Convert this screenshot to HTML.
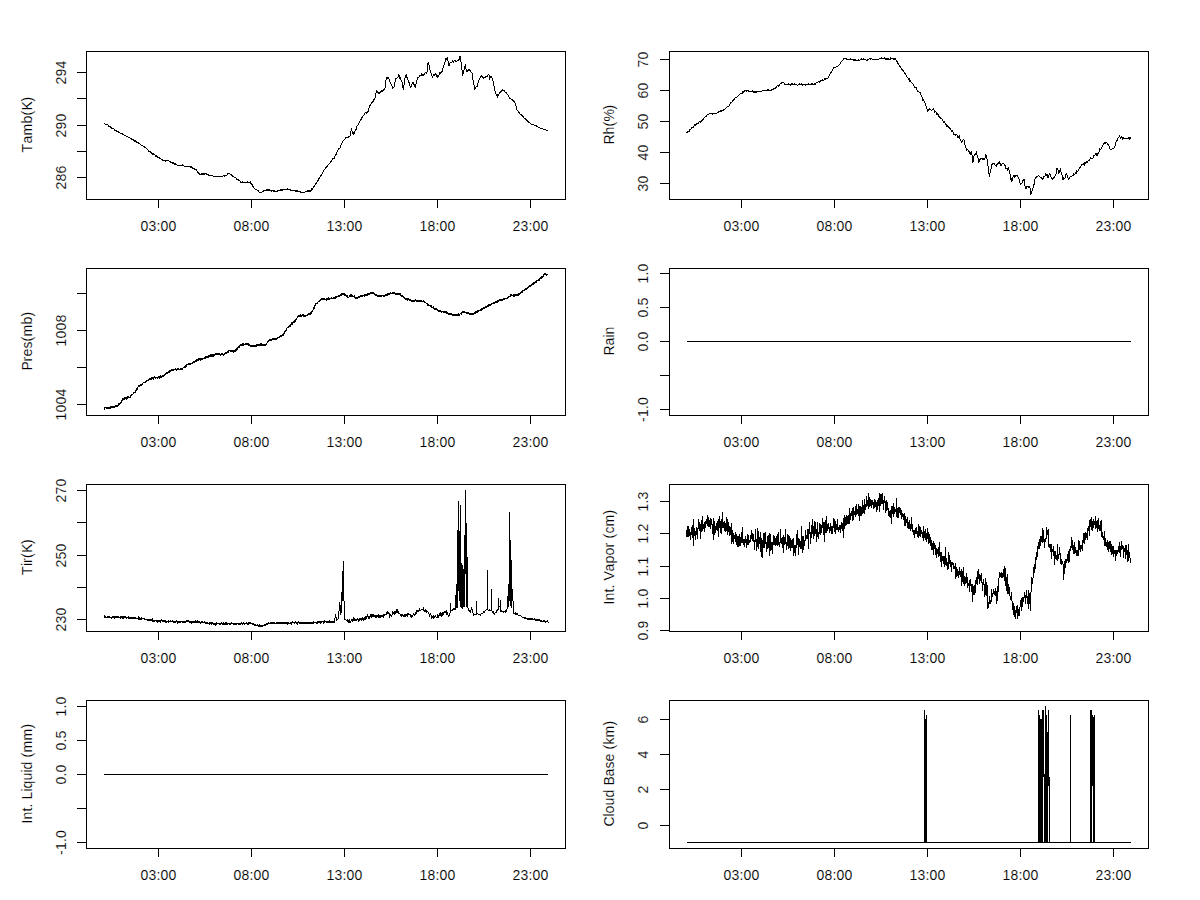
<!DOCTYPE html>
<html><head><meta charset="utf-8"><title>plot</title>
<style>
html,body{margin:0;padding:0;background:#fff;}
body{width:1200px;height:900px;overflow:hidden;font-family:"Liberation Sans",sans-serif;}
svg{display:block;}
</style></head><body>
<svg width="1200" height="900" viewBox="0 0 1200 900">
<rect width="1200" height="900" fill="#fff"/>
<g fill="#000" shape-rendering="crispEdges">
<rect x="86" y="51" width="480" height="1"/>
<rect x="86" y="199" width="480" height="1"/>
<rect x="86" y="51" width="1" height="149"/>
<rect x="565" y="51" width="1" height="149"/>
<rect x="158" y="199" width="1" height="9"/>
<rect x="251" y="199" width="1" height="9"/>
<rect x="344" y="199" width="1" height="9"/>
<rect x="437" y="199" width="1" height="9"/>
<rect x="530" y="199" width="1" height="9"/>
<rect x="77" y="72" width="10" height="1"/>
<rect x="77" y="98" width="10" height="1"/>
<rect x="77" y="125" width="10" height="1"/>
<rect x="77" y="151" width="10" height="1"/>
<rect x="77" y="177" width="10" height="1"/>
<rect x="669" y="51" width="480" height="1"/>
<rect x="669" y="199" width="480" height="1"/>
<rect x="669" y="51" width="1" height="149"/>
<rect x="1148" y="51" width="1" height="149"/>
<rect x="741" y="199" width="1" height="9"/>
<rect x="834" y="199" width="1" height="9"/>
<rect x="927" y="199" width="1" height="9"/>
<rect x="1020" y="199" width="1" height="9"/>
<rect x="1113" y="199" width="1" height="9"/>
<rect x="660" y="59" width="10" height="1"/>
<rect x="660" y="90" width="10" height="1"/>
<rect x="660" y="121" width="10" height="1"/>
<rect x="660" y="152" width="10" height="1"/>
<rect x="660" y="183" width="10" height="1"/>
<rect x="86" y="268" width="480" height="1"/>
<rect x="86" y="415" width="480" height="1"/>
<rect x="86" y="268" width="1" height="148"/>
<rect x="565" y="268" width="1" height="148"/>
<rect x="158" y="415" width="1" height="9"/>
<rect x="251" y="415" width="1" height="9"/>
<rect x="344" y="415" width="1" height="9"/>
<rect x="437" y="415" width="1" height="9"/>
<rect x="530" y="415" width="1" height="9"/>
<rect x="77" y="293" width="10" height="1"/>
<rect x="77" y="330" width="10" height="1"/>
<rect x="77" y="367" width="10" height="1"/>
<rect x="77" y="404" width="10" height="1"/>
<rect x="669" y="268" width="480" height="1"/>
<rect x="669" y="415" width="480" height="1"/>
<rect x="669" y="268" width="1" height="148"/>
<rect x="1148" y="268" width="1" height="148"/>
<rect x="741" y="415" width="1" height="9"/>
<rect x="834" y="415" width="1" height="9"/>
<rect x="927" y="415" width="1" height="9"/>
<rect x="1020" y="415" width="1" height="9"/>
<rect x="1113" y="415" width="1" height="9"/>
<rect x="660" y="273" width="10" height="1"/>
<rect x="660" y="307" width="10" height="1"/>
<rect x="660" y="341" width="10" height="1"/>
<rect x="660" y="375" width="10" height="1"/>
<rect x="660" y="409" width="10" height="1"/>
<rect x="86" y="484" width="480" height="1"/>
<rect x="86" y="631" width="480" height="1"/>
<rect x="86" y="484" width="1" height="148"/>
<rect x="565" y="484" width="1" height="148"/>
<rect x="158" y="631" width="1" height="9"/>
<rect x="251" y="631" width="1" height="9"/>
<rect x="344" y="631" width="1" height="9"/>
<rect x="437" y="631" width="1" height="9"/>
<rect x="530" y="631" width="1" height="9"/>
<rect x="77" y="490" width="10" height="1"/>
<rect x="77" y="522" width="10" height="1"/>
<rect x="77" y="555" width="10" height="1"/>
<rect x="77" y="587" width="10" height="1"/>
<rect x="77" y="619" width="10" height="1"/>
<rect x="669" y="484" width="480" height="1"/>
<rect x="669" y="631" width="480" height="1"/>
<rect x="669" y="484" width="1" height="148"/>
<rect x="1148" y="484" width="1" height="148"/>
<rect x="741" y="631" width="1" height="9"/>
<rect x="834" y="631" width="1" height="9"/>
<rect x="927" y="631" width="1" height="9"/>
<rect x="1020" y="631" width="1" height="9"/>
<rect x="1113" y="631" width="1" height="9"/>
<rect x="660" y="501" width="10" height="1"/>
<rect x="660" y="533" width="10" height="1"/>
<rect x="660" y="566" width="10" height="1"/>
<rect x="660" y="598" width="10" height="1"/>
<rect x="660" y="630" width="10" height="1"/>
<rect x="86" y="700" width="480" height="1"/>
<rect x="86" y="848" width="480" height="1"/>
<rect x="86" y="700" width="1" height="149"/>
<rect x="565" y="700" width="1" height="149"/>
<rect x="158" y="848" width="1" height="9"/>
<rect x="251" y="848" width="1" height="9"/>
<rect x="344" y="848" width="1" height="9"/>
<rect x="437" y="848" width="1" height="9"/>
<rect x="530" y="848" width="1" height="9"/>
<rect x="77" y="706" width="10" height="1"/>
<rect x="77" y="740" width="10" height="1"/>
<rect x="77" y="774" width="10" height="1"/>
<rect x="77" y="808" width="10" height="1"/>
<rect x="77" y="842" width="10" height="1"/>
<rect x="669" y="700" width="480" height="1"/>
<rect x="669" y="848" width="480" height="1"/>
<rect x="669" y="700" width="1" height="149"/>
<rect x="1148" y="700" width="1" height="149"/>
<rect x="741" y="848" width="1" height="9"/>
<rect x="834" y="848" width="1" height="9"/>
<rect x="927" y="848" width="1" height="9"/>
<rect x="1020" y="848" width="1" height="9"/>
<rect x="1113" y="848" width="1" height="9"/>
<rect x="660" y="719" width="10" height="1"/>
<rect x="660" y="754" width="10" height="1"/>
<rect x="660" y="789" width="10" height="1"/>
<rect x="660" y="825" width="10" height="1"/>
</g>
<g font-family="Liberation Sans, sans-serif" font-size="14" fill="#000" stroke="#fff" stroke-width="0.12" paint-order="fill stroke" text-anchor="start">
<text transform="translate(158.5,231)" x="-18 -10 -2 2 10">03:00</text>
<text transform="translate(251.5,231)" x="-18 -10 -2 2 10">08:00</text>
<text transform="translate(344.5,231)" x="-18 -10 -2 2 10">13:00</text>
<text transform="translate(437.5,231)" x="-18 -10 -2 2 10">18:00</text>
<text transform="translate(530.5,231)" x="-18 -10 -2 2 10">23:00</text>
<text transform="translate(65.5,72.5) rotate(-90)" x="-12 -4 4">294</text>
<text transform="translate(65.5,125.5) rotate(-90)" x="-12 -4 4">290</text>
<text transform="translate(65.5,177.5) rotate(-90)" x="-12 -4 4">286</text>
<text transform="translate(31.5,124.5) rotate(-90)" x="-28 -19 -11 1 9 14 23">Tamb(K)</text>
<text transform="translate(741.5,231)" x="-18 -10 -2 2 10">03:00</text>
<text transform="translate(834.5,231)" x="-18 -10 -2 2 10">08:00</text>
<text transform="translate(927.5,231)" x="-18 -10 -2 2 10">13:00</text>
<text transform="translate(1020.5,231)" x="-18 -10 -2 2 10">18:00</text>
<text transform="translate(1113.5,231)" x="-18 -10 -2 2 10">23:00</text>
<text transform="translate(648.2,59.5) rotate(-90)" x="-8 0">70</text>
<text transform="translate(648.2,90.5) rotate(-90)" x="-8 0">60</text>
<text transform="translate(648.2,121.5) rotate(-90)" x="-8 0">50</text>
<text transform="translate(648.2,152.5) rotate(-90)" x="-8 0">40</text>
<text transform="translate(648.2,183.5) rotate(-90)" x="-8 0">30</text>
<text transform="translate(613.8,124.5) rotate(-90)" x="-20 -10 -2 3 15">Rh(%)</text>
<text transform="translate(158.5,447)" x="-18 -10 -2 2 10">03:00</text>
<text transform="translate(251.5,447)" x="-18 -10 -2 2 10">08:00</text>
<text transform="translate(344.5,447)" x="-18 -10 -2 2 10">13:00</text>
<text transform="translate(437.5,447)" x="-18 -10 -2 2 10">18:00</text>
<text transform="translate(530.5,447)" x="-18 -10 -2 2 10">23:00</text>
<text transform="translate(65.5,330.5) rotate(-90)" x="-16 -8 0 8">1008</text>
<text transform="translate(65.5,404.5) rotate(-90)" x="-16 -8 0 8">1004</text>
<text transform="translate(31.5,341.0) rotate(-90)" x="-29.5 -20.5 -15.5 -7.5 -0.5 4.5 16.5 24.5">Pres(mb)</text>
<text transform="translate(741.5,447)" x="-18 -10 -2 2 10">03:00</text>
<text transform="translate(834.5,447)" x="-18 -10 -2 2 10">08:00</text>
<text transform="translate(927.5,447)" x="-18 -10 -2 2 10">13:00</text>
<text transform="translate(1020.5,447)" x="-18 -10 -2 2 10">18:00</text>
<text transform="translate(1113.5,447)" x="-18 -10 -2 2 10">23:00</text>
<text transform="translate(648.2,273.5) rotate(-90)" x="-10 -2 2">1.0</text>
<text transform="translate(648.2,307.5) rotate(-90)" x="-10 -2 2">0.5</text>
<text transform="translate(648.2,341.5) rotate(-90)" x="-10 -2 2">0.0</text>
<text transform="translate(648.2,409.5) rotate(-90)" x="-12.5 -7.5 0.5 4.5">-1.0</text>
<text transform="translate(613.8,341.0) rotate(-90)" x="-14.5 -4.5 3.5 6.5">Rain</text>
<text transform="translate(158.5,663)" x="-18 -10 -2 2 10">03:00</text>
<text transform="translate(251.5,663)" x="-18 -10 -2 2 10">08:00</text>
<text transform="translate(344.5,663)" x="-18 -10 -2 2 10">13:00</text>
<text transform="translate(437.5,663)" x="-18 -10 -2 2 10">18:00</text>
<text transform="translate(530.5,663)" x="-18 -10 -2 2 10">23:00</text>
<text transform="translate(65.5,490.5) rotate(-90)" x="-12 -4 4">270</text>
<text transform="translate(65.5,555.5) rotate(-90)" x="-12 -4 4">250</text>
<text transform="translate(65.5,619.5) rotate(-90)" x="-12 -4 4">230</text>
<text transform="translate(31.5,557.0) rotate(-90)" x="-18 -9 -6 -1 4 13">Tir(K)</text>
<text transform="translate(741.5,663)" x="-18 -10 -2 2 10">03:00</text>
<text transform="translate(834.5,663)" x="-18 -10 -2 2 10">08:00</text>
<text transform="translate(927.5,663)" x="-18 -10 -2 2 10">13:00</text>
<text transform="translate(1020.5,663)" x="-18 -10 -2 2 10">18:00</text>
<text transform="translate(1113.5,663)" x="-18 -10 -2 2 10">23:00</text>
<text transform="translate(648.2,501.5) rotate(-90)" x="-10 -2 2">1.3</text>
<text transform="translate(648.2,533.5) rotate(-90)" x="-10 -2 2">1.2</text>
<text transform="translate(648.2,566.5) rotate(-90)" x="-10 -2 2">1.1</text>
<text transform="translate(648.2,598.5) rotate(-90)" x="-10 -2 2">1.0</text>
<text transform="translate(648.2,630.5) rotate(-90)" x="-10 -2 2">0.9</text>
<text transform="translate(613.8,557.0) rotate(-90)" x="-47.5 -43.5 -35.5 -31.5 -27.5 -23.5 -14.5 -6.5 1.5 9.5 14.5 18.5 23.5 30.5 42.5">Int. Vapor (cm)</text>
<text transform="translate(158.5,880)" x="-18 -10 -2 2 10">03:00</text>
<text transform="translate(251.5,880)" x="-18 -10 -2 2 10">08:00</text>
<text transform="translate(344.5,880)" x="-18 -10 -2 2 10">13:00</text>
<text transform="translate(437.5,880)" x="-18 -10 -2 2 10">18:00</text>
<text transform="translate(530.5,880)" x="-18 -10 -2 2 10">23:00</text>
<text transform="translate(65.5,706.5) rotate(-90)" x="-10 -2 2">1.0</text>
<text transform="translate(65.5,740.5) rotate(-90)" x="-10 -2 2">0.5</text>
<text transform="translate(65.5,774.5) rotate(-90)" x="-10 -2 2">0.0</text>
<text transform="translate(65.5,842.5) rotate(-90)" x="-12.5 -7.5 0.5 4.5">-1.0</text>
<text transform="translate(31.5,773.5) rotate(-90)" x="-50 -46 -38 -34 -30 -26 -18 -15 -7 1 4 12 16 21 33 45">Int. Liquid (mm)</text>
<text transform="translate(741.5,880)" x="-18 -10 -2 2 10">03:00</text>
<text transform="translate(834.5,880)" x="-18 -10 -2 2 10">08:00</text>
<text transform="translate(927.5,880)" x="-18 -10 -2 2 10">13:00</text>
<text transform="translate(1020.5,880)" x="-18 -10 -2 2 10">18:00</text>
<text transform="translate(1113.5,880)" x="-18 -10 -2 2 10">23:00</text>
<text transform="translate(648.2,719.5) rotate(-90)" x="-4">6</text>
<text transform="translate(648.2,754.5) rotate(-90)" x="-4">4</text>
<text transform="translate(648.2,789.5) rotate(-90)" x="-4">2</text>
<text transform="translate(648.2,825.5) rotate(-90)" x="-4">0</text>
<text transform="translate(613.8,773.5) rotate(-90)" x="-53 -43 -40 -32 -24 -16 -12 -3 5 12 20 24 29 36 48">Cloud Base (km)</text>
</g>
<path fill="#000" shape-rendering="crispEdges" d="M104 123h1v1h-1zM105 124h1v1h-1zM106 124h1v1h-1zM107 124h1v1h-1zM108 125h1v2h-1zM109 126h1v1h-1zM110 126h1v2h-1zM111 127h1v2h-1zM112 128h1v1h-1zM113 128h1v1h-1zM114 129h1v2h-1zM115 130h1v1h-1zM116 130h1v2h-1zM117 131h1v1h-1zM118 131h1v2h-1zM119 132h1v1h-1zM120 133h1v1h-1zM121 133h1v1h-1zM122 133h1v2h-1zM123 134h1v1h-1zM124 135h1v1h-1zM125 135h1v1h-1zM126 136h1v1h-1zM127 136h1v1h-1zM128 137h1v1h-1zM129 137h1v1h-1zM130 138h1v1h-1zM131 138h1v2h-1zM132 139h1v1h-1zM133 139h1v2h-1zM134 140h1v2h-1zM135 140h1v2h-1zM136 141h1v2h-1zM137 142h1v1h-1zM138 142h1v2h-1zM139 143h1v1h-1zM140 144h1v1h-1zM141 145h1v1h-1zM142 145h1v1h-1zM143 146h1v1h-1zM144 146h1v2h-1zM145 147h1v1h-1zM146 148h1v1h-1zM147 149h1v1h-1zM148 150h1v2h-1zM149 151h1v1h-1zM150 151h1v2h-1zM151 152h1v2h-1zM152 153h1v2h-1zM153 153h1v2h-1zM154 154h1v1h-1zM155 155h1v2h-1zM156 155h1v2h-1zM157 156h1v2h-1zM158 157h1v1h-1zM159 157h1v2h-1zM160 158h1v1h-1zM161 159h1v1h-1zM162 159h1v2h-1zM163 160h1v1h-1zM164 160h1v1h-1zM165 160h1v2h-1zM166 160h1v1h-1zM167 160h1v1h-1zM168 160h1v1h-1zM169 161h1v1h-1zM170 161h1v2h-1zM171 162h1v1h-1zM172 162h1v2h-1zM173 162h1v2h-1zM174 163h1v2h-1zM175 163h1v2h-1zM176 164h1v1h-1zM177 165h1v1h-1zM178 165h1v1h-1zM179 165h1v1h-1zM180 165h1v1h-1zM181 165h1v1h-1zM182 164h1v2h-1zM183 165h1v1h-1zM184 166h1v1h-1zM185 166h1v1h-1zM186 166h1v1h-1zM187 166h1v1h-1zM188 166h1v1h-1zM189 166h1v1h-1zM190 166h1v2h-1zM191 166h1v2h-1zM192 167h1v2h-1zM193 168h1v1h-1zM194 168h1v2h-1zM195 169h1v1h-1zM196 169h1v2h-1zM197 171h1v2h-1zM198 172h1v2h-1zM199 173h1v2h-1zM200 174h1v1h-1zM201 173h1v2h-1zM202 173h1v2h-1zM203 173h1v2h-1zM204 173h1v2h-1zM205 173h1v1h-1zM206 173h1v2h-1zM207 174h1v1h-1zM208 174h1v2h-1zM209 175h1v1h-1zM210 175h1v1h-1zM211 175h1v1h-1zM212 175h1v1h-1zM213 176h1v1h-1zM214 176h1v1h-1zM215 176h1v1h-1zM216 176h1v1h-1zM217 176h1v1h-1zM218 176h1v1h-1zM219 176h1v1h-1zM220 176h1v1h-1zM221 176h1v1h-1zM222 176h1v1h-1zM223 175h1v1h-1zM224 175h1v2h-1zM225 175h1v1h-1zM226 175h1v1h-1zM227 173h1v2h-1zM228 173h1v1h-1zM229 173h1v1h-1zM230 174h1v1h-1zM231 174h1v2h-1zM232 175h1v2h-1zM233 176h1v1h-1zM234 177h1v1h-1zM235 177h1v1h-1zM236 178h1v2h-1zM237 179h1v1h-1zM238 179h1v2h-1zM239 180h1v1h-1zM240 181h1v2h-1zM241 182h1v1h-1zM242 181h1v2h-1zM243 182h1v1h-1zM244 182h1v1h-1zM245 182h1v1h-1zM246 182h1v1h-1zM247 181h1v2h-1zM248 182h1v1h-1zM249 182h1v1h-1zM250 181h1v3h-1zM251 183h1v2h-1zM252 184h1v3h-1zM253 186h1v2h-1zM254 188h1v1h-1zM255 189h1v1h-1zM256 189h1v1h-1zM257 190h1v1h-1zM258 190h1v2h-1zM259 192h1v1h-1zM260 192h1v1h-1zM261 192h1v1h-1zM262 191h1v1h-1zM263 190h1v2h-1zM264 190h1v1h-1zM265 190h1v1h-1zM266 189h1v2h-1zM267 189h1v2h-1zM268 189h1v2h-1zM269 189h1v2h-1zM270 190h1v1h-1zM271 190h1v2h-1zM272 190h1v1h-1zM273 190h1v2h-1zM274 190h1v2h-1zM275 191h1v1h-1zM276 191h1v1h-1zM277 190h1v2h-1zM278 190h1v1h-1zM279 190h1v1h-1zM280 189h1v2h-1zM281 189h1v2h-1zM282 189h1v2h-1zM283 189h1v1h-1zM284 189h1v1h-1zM285 189h1v1h-1zM286 189h1v1h-1zM287 188h1v2h-1zM288 189h1v1h-1zM289 189h1v1h-1zM290 189h1v2h-1zM291 190h1v1h-1zM292 190h1v1h-1zM293 190h1v1h-1zM294 190h1v1h-1zM295 190h1v2h-1zM296 190h1v2h-1zM297 190h1v2h-1zM298 191h1v1h-1zM299 191h1v1h-1zM300 191h1v2h-1zM301 192h1v1h-1zM302 192h1v1h-1zM303 192h1v1h-1zM304 192h1v1h-1zM305 191h1v1h-1zM306 191h1v1h-1zM307 190h1v2h-1zM308 190h1v2h-1zM309 190h1v2h-1zM310 190h1v2h-1zM311 188h1v3h-1zM312 188h1v2h-1zM313 186h1v2h-1zM314 185h1v2h-1zM315 183h1v2h-1zM316 182h1v2h-1zM317 180h1v2h-1zM318 178h1v3h-1zM319 177h1v2h-1zM320 175h1v2h-1zM321 174h1v2h-1zM322 172h1v2h-1zM323 170h1v2h-1zM324 169h1v1h-1zM325 167h1v2h-1zM326 166h1v2h-1zM327 165h1v2h-1zM328 164h1v1h-1zM329 163h1v1h-1zM330 161h1v2h-1zM331 160h1v2h-1zM332 158h1v2h-1zM333 158h1v1h-1zM334 156h1v3h-1zM335 154h1v2h-1zM336 152h1v3h-1zM337 150h1v2h-1zM338 148h1v2h-1zM339 148h1v1h-1zM340 145h1v3h-1zM341 143h1v2h-1zM342 141h1v2h-1zM343 140h1v1h-1zM344 139h1v1h-1zM345 137h1v2h-1zM346 137h1v1h-1zM347 137h1v1h-1zM348 136h1v2h-1zM349 136h1v1h-1zM350 131h1v5h-1zM351 128h1v3h-1zM352 131h1v3h-1zM353 132h1v3h-1zM354 131h1v3h-1zM355 129h1v2h-1zM356 126h1v4h-1zM357 125h1v1h-1zM358 123h1v2h-1zM359 121h1v2h-1zM360 119h1v2h-1zM361 117h1v3h-1zM362 116h1v2h-1zM363 115h1v1h-1zM364 113h1v2h-1zM365 112h1v1h-1zM366 112h1v2h-1zM367 111h1v2h-1zM368 108h1v4h-1zM369 105h1v3h-1zM370 104h1v2h-1zM371 102h1v2h-1zM372 101h1v2h-1zM373 99h1v3h-1zM374 98h1v2h-1zM375 93h1v5h-1zM376 90h1v3h-1zM377 91h1v2h-1zM378 92h1v2h-1zM379 92h1v2h-1zM380 91h1v2h-1zM381 90h1v2h-1zM382 90h1v2h-1zM383 89h1v2h-1zM384 88h1v2h-1zM385 80h1v8h-1zM386 77h1v3h-1zM387 77h1v2h-1zM388 77h1v2h-1zM389 79h1v3h-1zM390 82h1v2h-1zM391 84h1v2h-1zM392 86h1v3h-1zM393 87h1v1h-1zM394 82h1v5h-1zM395 78h1v4h-1zM396 78h1v1h-1zM397 77h1v1h-1zM398 74h1v3h-1zM399 75h1v4h-1zM400 77h1v3h-1zM401 80h1v2h-1zM402 82h1v6h-1zM403 85h1v5h-1zM404 78h1v7h-1zM405 75h1v3h-1zM406 74h1v4h-1zM407 77h1v3h-1zM408 80h1v3h-1zM409 82h1v4h-1zM410 86h1v2h-1zM411 84h1v3h-1zM412 82h1v2h-1zM413 82h1v3h-1zM414 84h1v3h-1zM415 84h1v4h-1zM416 80h1v4h-1zM417 77h1v3h-1zM418 77h1v1h-1zM419 75h1v2h-1zM420 75h1v1h-1zM421 73h1v3h-1zM422 74h1v2h-1zM423 74h1v2h-1zM424 73h1v2h-1zM425 72h1v1h-1zM426 72h1v2h-1zM427 63h1v9h-1zM428 62h1v3h-1zM429 65h1v5h-1zM430 70h1v3h-1zM431 73h1v3h-1zM432 76h1v2h-1zM433 74h1v2h-1zM434 74h1v2h-1zM435 73h1v2h-1zM436 74h1v3h-1zM437 75h1v3h-1zM438 75h1v2h-1zM439 72h1v3h-1zM440 72h1v2h-1zM441 71h1v2h-1zM442 68h1v4h-1zM443 65h1v3h-1zM444 62h1v3h-1zM445 58h1v4h-1zM446 58h1v2h-1zM447 57h1v4h-1zM448 61h1v5h-1zM449 63h1v3h-1zM450 62h1v1h-1zM451 62h1v1h-1zM452 60h1v2h-1zM453 61h1v2h-1zM454 60h1v1h-1zM455 60h1v2h-1zM456 61h1v1h-1zM457 60h1v1h-1zM458 59h1v2h-1zM459 56h1v4h-1zM460 56h1v6h-1zM461 62h1v8h-1zM462 70h1v6h-1zM463 70h1v4h-1zM464 66h1v4h-1zM465 64h1v5h-1zM466 69h1v3h-1zM467 70h1v2h-1zM468 69h1v2h-1zM469 69h1v2h-1zM470 70h1v2h-1zM471 72h1v1h-1zM472 73h1v7h-1zM473 80h1v5h-1zM474 85h1v5h-1zM475 87h1v2h-1zM476 86h1v1h-1zM477 83h1v4h-1zM478 80h1v3h-1zM479 78h1v2h-1zM480 76h1v2h-1zM481 75h1v2h-1zM482 76h1v2h-1zM483 77h1v2h-1zM484 77h1v1h-1zM485 76h1v2h-1zM486 76h1v1h-1zM487 75h1v2h-1zM488 74h1v1h-1zM489 75h1v5h-1zM490 76h1v2h-1zM491 76h1v2h-1zM492 78h1v3h-1zM493 81h1v5h-1zM494 86h1v5h-1zM495 91h1v3h-1zM496 94h1v2h-1zM497 94h1v4h-1zM498 94h1v2h-1zM499 92h1v2h-1zM500 91h1v2h-1zM501 90h1v2h-1zM502 89h1v2h-1zM503 90h1v1h-1zM504 90h1v2h-1zM505 92h1v1h-1zM506 92h1v2h-1zM507 94h1v1h-1zM508 95h1v2h-1zM509 97h1v2h-1zM510 98h1v1h-1zM511 99h1v1h-1zM512 99h1v2h-1zM513 100h1v2h-1zM514 101h1v2h-1zM515 103h1v3h-1zM516 106h1v4h-1zM517 110h1v1h-1zM518 111h1v2h-1zM519 112h1v2h-1zM520 114h1v1h-1zM521 114h1v2h-1zM522 115h1v2h-1zM523 116h1v2h-1zM524 118h1v1h-1zM525 118h1v2h-1zM526 119h1v2h-1zM527 120h1v2h-1zM528 121h1v2h-1zM529 122h1v1h-1zM530 123h1v1h-1zM531 124h1v1h-1zM532 124h1v1h-1zM533 124h1v1h-1zM534 125h1v1h-1zM535 125h1v1h-1zM536 125h1v2h-1zM537 126h1v1h-1zM538 127h1v1h-1zM539 127h1v1h-1zM540 128h1v1h-1zM541 128h1v1h-1zM542 128h1v1h-1zM543 129h1v1h-1zM544 129h1v1h-1zM545 129h1v1h-1zM546 130h1v1h-1zM547 130h1v1h-1z"/>
<path fill="#000" shape-rendering="crispEdges" d="M686 132h1v1h-1zM687 131h1v2h-1zM688 131h1v1h-1zM689 129h1v3h-1zM690 129h1v1h-1zM691 127h1v2h-1zM692 127h1v1h-1zM693 126h1v2h-1zM694 124h1v2h-1zM695 124h1v2h-1zM696 123h1v2h-1zM697 123h1v1h-1zM698 122h1v2h-1zM699 121h1v1h-1zM700 121h1v2h-1zM701 120h1v2h-1zM702 119h1v2h-1zM703 118h1v2h-1zM704 117h1v1h-1zM705 116h1v1h-1zM706 115h1v2h-1zM707 114h1v1h-1zM708 114h1v1h-1zM709 113h1v1h-1zM710 113h1v1h-1zM711 113h1v1h-1zM712 113h1v2h-1zM713 113h1v1h-1zM714 113h1v1h-1zM715 113h1v1h-1zM716 113h1v1h-1zM717 112h1v1h-1zM718 111h1v2h-1zM719 111h1v1h-1zM720 110h1v2h-1zM721 110h1v2h-1zM722 110h1v1h-1zM723 109h1v2h-1zM724 109h1v1h-1zM725 108h1v1h-1zM726 107h1v1h-1zM727 106h1v1h-1zM728 106h1v1h-1zM729 104h1v2h-1zM730 102h1v2h-1zM731 102h1v1h-1zM732 100h1v2h-1zM733 99h1v2h-1zM734 98h1v2h-1zM735 97h1v1h-1zM736 97h1v1h-1zM737 96h1v1h-1zM738 95h1v1h-1zM739 94h1v1h-1zM740 93h1v1h-1zM741 93h1v1h-1zM742 91h1v3h-1zM743 91h1v2h-1zM744 90h1v2h-1zM745 90h1v1h-1zM746 90h1v2h-1zM747 90h1v1h-1zM748 90h1v2h-1zM749 91h1v1h-1zM750 91h1v1h-1zM751 91h1v1h-1zM752 90h1v2h-1zM753 91h1v2h-1zM754 91h1v2h-1zM755 91h1v2h-1zM756 91h1v2h-1zM757 91h1v1h-1zM758 91h1v1h-1zM759 91h1v1h-1zM760 91h1v1h-1zM761 91h1v1h-1zM762 90h1v1h-1zM763 90h1v1h-1zM764 90h1v1h-1zM765 90h1v1h-1zM766 90h1v1h-1zM767 89h1v2h-1zM768 89h1v2h-1zM769 90h1v1h-1zM770 90h1v1h-1zM771 89h1v2h-1zM772 89h1v1h-1zM773 88h1v2h-1zM774 88h1v1h-1zM775 87h1v2h-1zM776 86h1v2h-1zM777 85h1v1h-1zM778 85h1v2h-1zM779 84h1v2h-1zM780 83h1v1h-1zM781 82h1v2h-1zM782 82h1v1h-1zM783 82h1v1h-1zM784 83h1v2h-1zM785 84h1v1h-1zM786 84h1v1h-1zM787 84h1v1h-1zM788 83h1v2h-1zM789 84h1v1h-1zM790 84h1v2h-1zM791 83h1v2h-1zM792 83h1v2h-1zM793 84h1v1h-1zM794 83h1v2h-1zM795 84h1v1h-1zM796 84h1v1h-1zM797 85h1v1h-1zM798 84h1v1h-1zM799 83h1v2h-1zM800 84h1v1h-1zM801 83h1v2h-1zM802 84h1v2h-1zM803 84h1v1h-1zM804 84h1v1h-1zM805 84h1v2h-1zM806 84h1v1h-1zM807 84h1v1h-1zM808 83h1v2h-1zM809 84h1v1h-1zM810 84h1v1h-1zM811 83h1v2h-1zM812 83h1v2h-1zM813 84h1v1h-1zM814 83h1v2h-1zM815 83h1v2h-1zM816 82h1v1h-1zM817 82h1v1h-1zM818 81h1v1h-1zM819 81h1v2h-1zM820 80h1v2h-1zM821 80h1v1h-1zM822 79h1v2h-1zM823 80h1v1h-1zM824 78h1v2h-1zM825 78h1v2h-1zM826 78h1v1h-1zM827 78h1v1h-1zM828 76h1v2h-1zM829 74h1v2h-1zM830 72h1v2h-1zM831 71h1v2h-1zM832 69h1v2h-1zM833 67h1v2h-1zM834 67h1v1h-1zM835 67h1v1h-1zM836 66h1v1h-1zM837 66h1v1h-1zM838 65h1v1h-1zM839 64h1v1h-1zM840 62h1v2h-1zM841 61h1v1h-1zM842 60h1v1h-1zM843 58h1v2h-1zM844 58h1v1h-1zM845 58h1v1h-1zM846 58h1v2h-1zM847 59h1v1h-1zM848 59h1v1h-1zM849 59h1v1h-1zM850 58h1v2h-1zM851 59h1v1h-1zM852 59h1v1h-1zM853 59h1v2h-1zM854 59h1v2h-1zM855 59h1v2h-1zM856 60h1v1h-1zM857 60h1v1h-1zM858 59h1v2h-1zM859 60h1v1h-1zM860 59h1v1h-1zM861 58h1v2h-1zM862 59h1v1h-1zM863 58h1v2h-1zM864 59h1v1h-1zM865 59h1v1h-1zM866 60h1v1h-1zM867 59h1v2h-1zM868 59h1v1h-1zM869 58h1v1h-1zM870 58h1v2h-1zM871 58h1v1h-1zM872 59h1v1h-1zM873 59h1v1h-1zM874 59h1v1h-1zM875 59h1v1h-1zM876 59h1v1h-1zM877 59h1v1h-1zM878 59h1v1h-1zM879 58h1v1h-1zM880 58h1v1h-1zM881 57h1v2h-1zM882 58h1v1h-1zM883 58h1v1h-1zM884 57h1v2h-1zM885 58h1v2h-1zM886 58h1v2h-1zM887 58h1v2h-1zM888 58h1v2h-1zM889 59h1v1h-1zM890 57h1v3h-1zM891 58h1v1h-1zM892 58h1v1h-1zM893 58h1v2h-1zM894 58h1v2h-1zM895 58h1v2h-1zM896 60h1v2h-1zM897 61h1v3h-1zM898 63h1v2h-1zM899 65h1v2h-1zM900 66h1v2h-1zM901 68h1v2h-1zM902 69h1v2h-1zM903 70h1v2h-1zM904 72h1v2h-1zM905 73h1v2h-1zM906 75h1v2h-1zM907 77h1v1h-1zM908 78h1v2h-1zM909 78h1v4h-1zM910 80h1v2h-1zM911 82h1v1h-1zM912 83h1v1h-1zM913 84h1v2h-1zM914 86h1v2h-1zM915 87h1v1h-1zM916 87h1v3h-1zM917 90h1v2h-1zM918 91h1v1h-1zM919 92h1v1h-1zM920 92h1v3h-1zM921 95h1v2h-1zM922 97h1v4h-1zM923 99h1v2h-1zM924 101h1v2h-1zM925 103h1v3h-1zM926 106h1v3h-1zM927 109h1v3h-1zM928 109h1v2h-1zM929 108h1v2h-1zM930 109h1v1h-1zM931 110h1v1h-1zM932 109h1v1h-1zM933 108h1v2h-1zM934 110h1v3h-1zM935 111h1v1h-1zM936 112h1v3h-1zM937 113h1v2h-1zM938 114h1v3h-1zM939 116h1v2h-1zM940 117h1v2h-1zM941 118h1v1h-1zM942 119h1v2h-1zM943 121h1v2h-1zM944 121h1v2h-1zM945 123h1v2h-1zM946 124h1v3h-1zM947 125h1v2h-1zM948 126h1v2h-1zM949 127h1v2h-1zM950 128h1v2h-1zM951 130h1v2h-1zM952 130h1v2h-1zM953 132h1v3h-1zM954 134h1v1h-1zM955 134h1v2h-1zM956 134h1v1h-1zM957 135h1v3h-1zM958 136h1v2h-1zM959 135h1v4h-1zM960 139h1v2h-1zM961 141h1v2h-1zM962 140h1v2h-1zM963 139h1v1h-1zM964 140h1v5h-1zM965 145h1v3h-1zM966 148h1v3h-1zM967 149h1v1h-1zM968 150h1v2h-1zM969 151h1v3h-1zM970 152h1v3h-1zM971 151h1v4h-1zM972 155h1v8h-1zM973 156h1v6h-1zM974 154h1v2h-1zM975 153h1v2h-1zM976 151h1v4h-1zM977 155h1v3h-1zM978 158h1v5h-1zM979 159h1v3h-1zM980 158h1v2h-1zM981 158h1v1h-1zM982 158h1v2h-1zM983 158h1v2h-1zM984 158h1v2h-1zM985 154h1v4h-1zM986 155h1v4h-1zM987 159h1v7h-1zM988 166h1v8h-1zM989 173h1v4h-1zM990 169h1v4h-1zM991 164h1v5h-1zM992 163h1v2h-1zM993 163h1v1h-1zM994 163h1v2h-1zM995 165h1v1h-1zM996 164h1v3h-1zM997 163h1v2h-1zM998 162h1v2h-1zM999 161h1v3h-1zM1000 163h1v3h-1zM1001 164h1v2h-1zM1002 163h1v1h-1zM1003 163h1v1h-1zM1004 164h1v2h-1zM1005 165h1v4h-1zM1006 168h1v1h-1zM1007 168h1v3h-1zM1008 167h1v3h-1zM1009 170h1v4h-1zM1010 174h1v6h-1zM1011 178h1v4h-1zM1012 177h1v4h-1zM1013 175h1v2h-1zM1014 175h1v3h-1zM1015 175h1v2h-1zM1016 175h1v1h-1zM1017 175h1v2h-1zM1018 177h1v2h-1zM1019 179h1v4h-1zM1020 183h1v2h-1zM1021 183h1v1h-1zM1022 180h1v3h-1zM1023 179h1v2h-1zM1024 179h1v7h-1zM1025 186h1v3h-1zM1026 186h1v3h-1zM1027 186h1v1h-1zM1028 186h1v2h-1zM1029 186h1v2h-1zM1030 188h1v7h-1zM1031 191h1v3h-1zM1032 188h1v3h-1zM1033 184h1v4h-1zM1034 179h1v6h-1zM1035 177h1v2h-1zM1036 176h1v2h-1zM1037 176h1v1h-1zM1038 175h1v1h-1zM1039 176h1v1h-1zM1040 177h1v1h-1zM1041 177h1v2h-1zM1042 178h1v2h-1zM1043 176h1v3h-1zM1044 176h1v1h-1zM1045 173h1v3h-1zM1046 174h1v2h-1zM1047 174h1v4h-1zM1048 175h1v3h-1zM1049 173h1v2h-1zM1050 174h1v3h-1zM1051 177h1v2h-1zM1052 178h1v2h-1zM1053 177h1v2h-1zM1054 176h1v2h-1zM1055 174h1v2h-1zM1056 168h1v6h-1zM1057 168h1v2h-1zM1058 170h1v4h-1zM1059 170h1v3h-1zM1060 168h1v4h-1zM1061 172h1v3h-1zM1062 175h1v5h-1zM1063 177h1v3h-1zM1064 178h1v1h-1zM1065 174h1v4h-1zM1066 173h1v2h-1zM1067 175h1v3h-1zM1068 178h1v2h-1zM1069 177h1v2h-1zM1070 176h1v1h-1zM1071 176h1v1h-1zM1072 175h1v1h-1zM1073 173h1v3h-1zM1074 174h1v1h-1zM1075 172h1v2h-1zM1076 170h1v4h-1zM1077 171h1v1h-1zM1078 169h1v2h-1zM1079 167h1v2h-1zM1080 166h1v2h-1zM1081 164h1v2h-1zM1082 164h1v1h-1zM1083 163h1v2h-1zM1084 162h1v4h-1zM1085 162h1v2h-1zM1086 161h1v2h-1zM1087 161h1v2h-1zM1088 160h1v1h-1zM1089 159h1v2h-1zM1090 157h1v2h-1zM1091 158h1v1h-1zM1092 158h1v1h-1zM1093 155h1v3h-1zM1094 155h1v1h-1zM1095 153h1v2h-1zM1096 153h1v3h-1zM1097 153h1v3h-1zM1098 152h1v2h-1zM1099 148h1v4h-1zM1100 149h1v1h-1zM1101 147h1v2h-1zM1102 145h1v2h-1zM1103 143h1v2h-1zM1104 142h1v2h-1zM1105 142h1v2h-1zM1106 142h1v1h-1zM1107 143h1v2h-1zM1108 144h1v2h-1zM1109 146h1v3h-1zM1110 149h1v1h-1zM1111 149h1v1h-1zM1112 148h1v1h-1zM1113 148h1v1h-1zM1114 146h1v2h-1zM1115 142h1v4h-1zM1116 140h1v2h-1zM1117 138h1v3h-1zM1118 137h1v1h-1zM1119 135h1v2h-1zM1120 137h1v2h-1zM1121 136h1v2h-1zM1122 137h1v3h-1zM1123 137h1v2h-1zM1124 138h1v1h-1zM1125 138h1v1h-1zM1126 138h1v1h-1zM1127 138h1v1h-1zM1128 137h1v2h-1zM1129 137h1v3h-1zM1130 137h1v2h-1z"/>
<path fill="#000" shape-rendering="crispEdges" d="M104 407h1v3h-1zM105 407h1v1h-1zM106 407h1v2h-1zM107 407h1v2h-1zM108 407h1v2h-1zM109 407h1v2h-1zM110 406h1v3h-1zM111 406h1v2h-1zM112 406h1v2h-1zM113 406h1v2h-1zM114 406h1v2h-1zM115 405h1v2h-1zM116 405h1v2h-1zM117 405h1v2h-1zM118 403h1v3h-1zM119 403h1v2h-1zM120 402h1v2h-1zM121 400h1v3h-1zM122 398h1v3h-1zM123 398h1v2h-1zM124 397h1v3h-1zM125 397h1v2h-1zM126 397h1v3h-1zM127 396h1v3h-1zM128 396h1v2h-1zM129 397h1v1h-1zM130 395h1v3h-1zM131 394h1v2h-1zM132 394h1v1h-1zM133 392h1v2h-1zM134 392h1v1h-1zM135 390h1v3h-1zM136 388h1v3h-1zM137 387h1v3h-1zM138 385h1v2h-1zM139 385h1v2h-1zM140 384h1v2h-1zM141 384h1v2h-1zM142 383h1v2h-1zM143 382h1v1h-1zM144 382h1v1h-1zM145 381h1v2h-1zM146 380h1v2h-1zM147 380h1v1h-1zM148 379h1v2h-1zM149 378h1v2h-1zM150 378h1v2h-1zM151 377h1v3h-1zM152 377h1v2h-1zM153 377h1v3h-1zM154 376h1v2h-1zM155 377h1v2h-1zM156 377h1v1h-1zM157 377h1v2h-1zM158 376h1v2h-1zM159 376h1v3h-1zM160 375h1v3h-1zM161 376h1v2h-1zM162 375h1v2h-1zM163 375h1v2h-1zM164 374h1v2h-1zM165 373h1v2h-1zM166 372h1v2h-1zM167 372h1v2h-1zM168 371h1v2h-1zM169 370h1v3h-1zM170 370h1v2h-1zM171 369h1v2h-1zM172 369h1v2h-1zM173 369h1v2h-1zM174 369h1v1h-1zM175 368h1v2h-1zM176 369h1v2h-1zM177 368h1v2h-1zM178 368h1v2h-1zM179 369h1v1h-1zM180 368h1v2h-1zM181 368h1v2h-1zM182 368h1v2h-1zM183 367h1v1h-1zM184 366h1v2h-1zM185 365h1v3h-1zM186 364h1v3h-1zM187 364h1v1h-1zM188 363h1v2h-1zM189 363h1v2h-1zM190 363h1v2h-1zM191 363h1v1h-1zM192 362h1v2h-1zM193 361h1v2h-1zM194 361h1v2h-1zM195 360h1v2h-1zM196 359h1v3h-1zM197 359h1v2h-1zM198 358h1v3h-1zM199 358h1v2h-1zM200 358h1v3h-1zM201 358h1v2h-1zM202 358h1v2h-1zM203 358h1v1h-1zM204 357h1v2h-1zM205 356h1v3h-1zM206 356h1v2h-1zM207 356h1v2h-1zM208 355h1v3h-1zM209 355h1v2h-1zM210 354h1v3h-1zM211 354h1v3h-1zM212 354h1v3h-1zM213 354h1v3h-1zM214 354h1v2h-1zM215 353h1v2h-1zM216 353h1v2h-1zM217 353h1v2h-1zM218 353h1v2h-1zM219 353h1v2h-1zM220 354h1v2h-1zM221 353h1v2h-1zM222 353h1v2h-1zM223 354h1v2h-1zM224 353h1v2h-1zM225 352h1v2h-1zM226 352h1v2h-1zM227 351h1v2h-1zM228 350h1v3h-1zM229 350h1v1h-1zM230 350h1v2h-1zM231 350h1v2h-1zM232 350h1v2h-1zM233 350h1v3h-1zM234 350h1v2h-1zM235 349h1v3h-1zM236 348h1v3h-1zM237 347h1v3h-1zM238 346h1v2h-1zM239 345h1v3h-1zM240 344h1v2h-1zM241 344h1v2h-1zM242 343h1v3h-1zM243 343h1v3h-1zM244 344h1v1h-1zM245 343h1v2h-1zM246 343h1v2h-1zM247 343h1v2h-1zM248 343h1v3h-1zM249 344h1v2h-1zM250 345h1v2h-1zM251 345h1v2h-1zM252 345h1v2h-1zM253 345h1v2h-1zM254 345h1v2h-1zM255 345h1v2h-1zM256 344h1v3h-1zM257 344h1v2h-1zM258 344h1v2h-1zM259 344h1v2h-1zM260 343h1v3h-1zM261 343h1v3h-1zM262 344h1v2h-1zM263 344h1v2h-1zM264 344h1v2h-1zM265 344h1v2h-1zM266 343h1v2h-1zM267 341h1v2h-1zM268 340h1v2h-1zM269 339h1v2h-1zM270 339h1v2h-1zM271 339h1v2h-1zM272 338h1v2h-1zM273 338h1v2h-1zM274 338h1v2h-1zM275 338h1v2h-1zM276 338h1v2h-1zM277 337h1v2h-1zM278 337h1v1h-1zM279 336h1v2h-1zM280 335h1v2h-1zM281 335h1v2h-1zM282 334h1v2h-1zM283 333h1v3h-1zM284 331h1v3h-1zM285 330h1v2h-1zM286 328h1v3h-1zM287 327h1v1h-1zM288 326h1v2h-1zM289 325h1v2h-1zM290 324h1v3h-1zM291 322h1v3h-1zM292 322h1v3h-1zM293 321h1v2h-1zM294 320h1v3h-1zM295 319h1v3h-1zM296 318h1v2h-1zM297 316h1v2h-1zM298 315h1v2h-1zM299 315h1v2h-1zM300 314h1v3h-1zM301 315h1v2h-1zM302 314h1v2h-1zM303 314h1v3h-1zM304 315h1v2h-1zM305 315h1v2h-1zM306 315h1v1h-1zM307 314h1v2h-1zM308 313h1v2h-1zM309 313h1v2h-1zM310 312h1v3h-1zM311 311h1v3h-1zM312 310h1v2h-1zM313 307h1v3h-1zM314 305h1v4h-1zM315 303h1v3h-1zM316 303h1v1h-1zM317 302h1v2h-1zM318 301h1v1h-1zM319 300h1v2h-1zM320 299h1v2h-1zM321 298h1v2h-1zM322 298h1v2h-1zM323 298h1v2h-1zM324 298h1v2h-1zM325 299h1v1h-1zM326 298h1v3h-1zM327 298h1v2h-1zM328 297h1v3h-1zM329 298h1v2h-1zM330 298h1v1h-1zM331 297h1v2h-1zM332 298h1v1h-1zM333 297h1v2h-1zM334 297h1v2h-1zM335 296h1v3h-1zM336 296h1v2h-1zM337 296h1v1h-1zM338 295h1v2h-1zM339 295h1v2h-1zM340 294h1v2h-1zM341 293h1v3h-1zM342 293h1v2h-1zM343 293h1v2h-1zM344 293h1v3h-1zM345 294h1v2h-1zM346 295h1v2h-1zM347 295h1v3h-1zM348 297h1v1h-1zM349 295h1v2h-1zM350 294h1v3h-1zM351 294h1v3h-1zM352 295h1v2h-1zM353 296h1v1h-1zM354 295h1v3h-1zM355 297h1v2h-1zM356 297h1v2h-1zM357 297h1v2h-1zM358 296h1v2h-1zM359 296h1v2h-1zM360 295h1v2h-1zM361 295h1v2h-1zM362 295h1v2h-1zM363 295h1v1h-1zM364 294h1v3h-1zM365 294h1v2h-1zM366 294h1v2h-1zM367 293h1v3h-1zM368 293h1v2h-1zM369 293h1v2h-1zM370 292h1v2h-1zM371 292h1v2h-1zM372 292h1v2h-1zM373 292h1v2h-1zM374 293h1v2h-1zM375 294h1v2h-1zM376 294h1v2h-1zM377 295h1v2h-1zM378 295h1v2h-1zM379 295h1v2h-1zM380 295h1v2h-1zM381 295h1v2h-1zM382 295h1v1h-1zM383 295h1v2h-1zM384 295h1v2h-1zM385 294h1v2h-1zM386 294h1v2h-1zM387 293h1v3h-1zM388 293h1v2h-1zM389 293h1v2h-1zM390 292h1v2h-1zM391 293h1v1h-1zM392 292h1v2h-1zM393 292h1v2h-1zM394 292h1v2h-1zM395 293h1v2h-1zM396 293h1v2h-1zM397 293h1v2h-1zM398 293h1v2h-1zM399 293h1v2h-1zM400 293h1v3h-1zM401 295h1v2h-1zM402 295h1v2h-1zM403 296h1v2h-1zM404 297h1v2h-1zM405 298h1v2h-1zM406 298h1v2h-1zM407 298h1v3h-1zM408 298h1v2h-1zM409 299h1v2h-1zM410 299h1v2h-1zM411 300h1v2h-1zM412 300h1v2h-1zM413 300h1v2h-1zM414 300h1v2h-1zM415 299h1v2h-1zM416 300h1v2h-1zM417 300h1v2h-1zM418 300h1v2h-1zM419 300h1v2h-1zM420 300h1v2h-1zM421 300h1v2h-1zM422 301h1v1h-1zM423 300h1v2h-1zM424 301h1v2h-1zM425 302h1v1h-1zM426 303h1v1h-1zM427 303h1v3h-1zM428 304h1v2h-1zM429 305h1v1h-1zM430 305h1v2h-1zM431 305h1v3h-1zM432 307h1v1h-1zM433 306h1v3h-1zM434 308h1v2h-1zM435 308h1v2h-1zM436 308h1v2h-1zM437 309h1v2h-1zM438 310h1v2h-1zM439 310h1v2h-1zM440 310h1v2h-1zM441 311h1v2h-1zM442 311h1v1h-1zM443 311h1v2h-1zM444 311h1v2h-1zM445 311h1v2h-1zM446 311h1v3h-1zM447 312h1v2h-1zM448 313h1v2h-1zM449 313h1v2h-1zM450 313h1v2h-1zM451 313h1v2h-1zM452 314h1v2h-1zM453 314h1v2h-1zM454 314h1v2h-1zM455 314h1v2h-1zM456 314h1v2h-1zM457 314h1v2h-1zM458 313h1v3h-1zM459 314h1v2h-1zM460 313h1v1h-1zM461 312h1v3h-1zM462 311h1v2h-1zM463 311h1v2h-1zM464 311h1v2h-1zM465 312h1v1h-1zM466 312h1v2h-1zM467 312h1v2h-1zM468 312h1v2h-1zM469 313h1v2h-1zM470 313h1v2h-1zM471 313h1v2h-1zM472 313h1v2h-1zM473 313h1v2h-1zM474 312h1v2h-1zM475 311h1v3h-1zM476 311h1v2h-1zM477 310h1v3h-1zM478 310h1v2h-1zM479 310h1v1h-1zM480 309h1v2h-1zM481 308h1v3h-1zM482 308h1v2h-1zM483 307h1v2h-1zM484 307h1v2h-1zM485 306h1v2h-1zM486 306h1v2h-1zM487 305h1v2h-1zM488 304h1v3h-1zM489 304h1v2h-1zM490 304h1v2h-1zM491 303h1v2h-1zM492 303h1v1h-1zM493 302h1v2h-1zM494 302h1v2h-1zM495 301h1v2h-1zM496 301h1v2h-1zM497 300h1v3h-1zM498 300h1v2h-1zM499 299h1v2h-1zM500 299h1v2h-1zM501 299h1v2h-1zM502 299h1v2h-1zM503 298h1v2h-1zM504 298h1v2h-1zM505 298h1v1h-1zM506 298h1v1h-1zM507 297h1v2h-1zM508 296h1v2h-1zM509 296h1v1h-1zM510 294h1v3h-1zM511 294h1v2h-1zM512 295h1v1h-1zM513 294h1v3h-1zM514 294h1v3h-1zM515 294h1v2h-1zM516 294h1v2h-1zM517 294h1v2h-1zM518 293h1v3h-1zM519 293h1v2h-1zM520 292h1v2h-1zM521 291h1v2h-1zM522 290h1v3h-1zM523 290h1v1h-1zM524 289h1v2h-1zM525 288h1v2h-1zM526 288h1v2h-1zM527 287h1v2h-1zM528 286h1v2h-1zM529 285h1v2h-1zM530 285h1v2h-1zM531 284h1v2h-1zM532 283h1v2h-1zM533 282h1v3h-1zM534 282h1v2h-1zM535 281h1v2h-1zM536 280h1v3h-1zM537 280h1v1h-1zM538 279h1v2h-1zM539 278h1v3h-1zM540 277h1v2h-1zM541 276h1v3h-1zM542 276h1v2h-1zM543 274h1v3h-1zM544 273h1v2h-1zM545 273h1v2h-1zM546 274h1v2h-1zM547 274h1v1h-1z"/>
<path fill="#000" shape-rendering="crispEdges" d="M104 615h1v3h-1zM105 616h1v2h-1zM106 617h1v1h-1zM107 616h1v2h-1zM108 616h1v2h-1zM109 616h1v2h-1zM110 617h1v1h-1zM111 617h1v2h-1zM112 616h1v2h-1zM113 616h1v2h-1zM114 616h1v3h-1zM115 616h1v2h-1zM116 616h1v2h-1zM117 616h1v2h-1zM118 616h1v2h-1zM119 617h1v1h-1zM120 616h1v3h-1zM121 616h1v2h-1zM122 616h1v3h-1zM123 616h1v3h-1zM124 616h1v2h-1zM125 616h1v2h-1zM126 617h1v2h-1zM127 617h1v1h-1zM128 616h1v3h-1zM129 617h1v2h-1zM130 617h1v2h-1zM131 617h1v2h-1zM132 617h1v2h-1zM133 617h1v2h-1zM134 617h1v2h-1zM135 617h1v2h-1zM136 618h1v1h-1zM137 618h1v1h-1zM138 616h1v4h-1zM139 617h1v3h-1zM140 618h1v2h-1zM141 617h1v3h-1zM142 618h1v1h-1zM143 618h1v1h-1zM144 618h1v2h-1zM145 619h1v1h-1zM146 619h1v1h-1zM147 619h1v2h-1zM148 619h1v2h-1zM149 619h1v2h-1zM150 619h1v2h-1zM151 619h1v2h-1zM152 618h1v4h-1zM153 620h1v2h-1zM154 620h1v2h-1zM155 620h1v1h-1zM156 620h1v2h-1zM157 620h1v3h-1zM158 620h1v2h-1zM159 620h1v2h-1zM160 620h1v3h-1zM161 619h1v2h-1zM162 620h1v2h-1zM163 620h1v2h-1zM164 620h1v2h-1zM165 620h1v3h-1zM166 621h1v2h-1zM167 621h1v1h-1zM168 620h1v3h-1zM169 621h1v1h-1zM170 620h1v2h-1zM171 621h1v1h-1zM172 620h1v2h-1zM173 621h1v2h-1zM174 621h1v2h-1zM175 621h1v2h-1zM176 620h1v2h-1zM177 621h1v3h-1zM178 621h1v2h-1zM179 621h1v2h-1zM180 621h1v2h-1zM181 621h1v1h-1zM182 621h1v2h-1zM183 621h1v2h-1zM184 621h1v2h-1zM185 621h1v2h-1zM186 620h1v2h-1zM187 620h1v2h-1zM188 620h1v2h-1zM189 621h1v2h-1zM190 621h1v2h-1zM191 621h1v3h-1zM192 621h1v2h-1zM193 621h1v2h-1zM194 621h1v2h-1zM195 620h1v3h-1zM196 621h1v2h-1zM197 620h1v3h-1zM198 621h1v2h-1zM199 621h1v2h-1zM200 622h1v2h-1zM201 621h1v2h-1zM202 621h1v2h-1zM203 622h1v1h-1zM204 621h1v2h-1zM205 622h1v2h-1zM206 622h1v2h-1zM207 622h1v2h-1zM208 623h1v1h-1zM209 622h1v3h-1zM210 622h1v2h-1zM211 622h1v3h-1zM212 622h1v2h-1zM213 623h1v2h-1zM214 623h1v2h-1zM215 623h1v3h-1zM216 622h1v3h-1zM217 623h1v1h-1zM218 623h1v1h-1zM219 623h1v2h-1zM220 623h1v2h-1zM221 622h1v2h-1zM222 623h1v2h-1zM223 622h1v3h-1zM224 623h1v2h-1zM225 622h1v3h-1zM226 622h1v3h-1zM227 623h1v2h-1zM228 623h1v1h-1zM229 623h1v2h-1zM230 623h1v2h-1zM231 622h1v2h-1zM232 623h1v1h-1zM233 623h1v2h-1zM234 623h1v2h-1zM235 623h1v2h-1zM236 623h1v2h-1zM237 623h1v1h-1zM238 623h1v2h-1zM239 623h1v2h-1zM240 623h1v2h-1zM241 622h1v2h-1zM242 623h1v2h-1zM243 622h1v2h-1zM244 623h1v2h-1zM245 623h1v1h-1zM246 622h1v2h-1zM247 623h1v2h-1zM248 622h1v3h-1zM249 622h1v2h-1zM250 622h1v2h-1zM251 623h1v1h-1zM252 623h1v2h-1zM253 623h1v2h-1zM254 624h1v2h-1zM255 624h1v2h-1zM256 625h1v1h-1zM257 624h1v2h-1zM258 625h1v2h-1zM259 624h1v3h-1zM260 625h1v2h-1zM261 625h1v2h-1zM262 625h1v2h-1zM263 625h1v1h-1zM264 624h1v2h-1zM265 624h1v2h-1zM266 623h1v2h-1zM267 623h1v2h-1zM268 622h1v2h-1zM269 623h1v1h-1zM270 622h1v2h-1zM271 622h1v2h-1zM272 622h1v2h-1zM273 622h1v2h-1zM274 622h1v2h-1zM275 623h1v1h-1zM276 622h1v2h-1zM277 622h1v2h-1zM278 622h1v2h-1zM279 622h1v2h-1zM280 622h1v2h-1zM281 622h1v2h-1zM282 622h1v2h-1zM283 622h1v2h-1zM284 622h1v2h-1zM285 622h1v2h-1zM286 622h1v2h-1zM287 622h1v3h-1zM288 622h1v2h-1zM289 623h1v1h-1zM290 622h1v2h-1zM291 622h1v3h-1zM292 621h1v2h-1zM293 622h1v1h-1zM294 622h1v2h-1zM295 621h1v2h-1zM296 622h1v2h-1zM297 622h1v3h-1zM298 621h1v2h-1zM299 622h1v2h-1zM300 622h1v2h-1zM301 622h1v2h-1zM302 622h1v2h-1zM303 622h1v2h-1zM304 622h1v2h-1zM305 622h1v2h-1zM306 622h1v2h-1zM307 622h1v2h-1zM308 622h1v2h-1zM309 622h1v2h-1zM310 622h1v2h-1zM311 622h1v2h-1zM312 622h1v2h-1zM313 621h1v3h-1zM314 622h1v1h-1zM315 622h1v1h-1zM316 622h1v2h-1zM317 621h1v3h-1zM318 621h1v2h-1zM319 621h1v2h-1zM320 621h1v3h-1zM321 621h1v2h-1zM322 621h1v1h-1zM323 621h1v3h-1zM324 620h1v3h-1zM325 621h1v1h-1zM326 621h1v2h-1zM327 621h1v2h-1zM328 621h1v2h-1zM329 620h1v3h-1zM330 621h1v2h-1zM331 621h1v2h-1zM332 621h1v2h-1zM333 621h1v2h-1zM334 618h1v5h-1zM335 614h1v4h-1zM336 617h1v4h-1zM337 619h1v1h-1zM338 611h1v8h-1zM339 602h1v9h-1zM340 605h1v10h-1zM341 592h1v21h-1zM342 571h1v30h-1zM343 561h1v40h-1zM344 601h1v19h-1zM345 619h1v1h-1zM346 620h1v1h-1zM347 619h1v3h-1zM348 620h1v3h-1zM349 619h1v4h-1zM350 621h1v2h-1zM351 619h1v2h-1zM352 619h1v3h-1zM353 617h1v4h-1zM354 618h1v3h-1zM355 619h1v2h-1zM356 619h1v2h-1zM357 618h1v2h-1zM358 619h1v3h-1zM359 618h1v3h-1zM360 618h1v2h-1zM361 618h1v3h-1zM362 617h1v3h-1zM363 618h1v3h-1zM364 617h1v3h-1zM365 616h1v4h-1zM366 616h1v3h-1zM367 614h1v3h-1zM368 616h1v3h-1zM369 616h1v3h-1zM370 614h1v3h-1zM371 614h1v4h-1zM372 614h1v3h-1zM373 614h1v3h-1zM374 615h1v2h-1zM375 615h1v3h-1zM376 615h1v3h-1zM377 615h1v2h-1zM378 614h1v4h-1zM379 615h1v3h-1zM380 615h1v3h-1zM381 615h1v2h-1zM382 615h1v2h-1zM383 614h1v4h-1zM384 614h1v2h-1zM385 614h1v1h-1zM386 612h1v3h-1zM387 611h1v3h-1zM388 612h1v2h-1zM389 613h1v5h-1zM390 614h1v2h-1zM391 615h1v2h-1zM392 611h1v4h-1zM393 612h1v2h-1zM394 611h1v4h-1zM395 611h1v3h-1zM396 609h1v4h-1zM397 609h1v4h-1zM398 611h1v3h-1zM399 613h1v1h-1zM400 614h1v2h-1zM401 614h1v3h-1zM402 614h1v2h-1zM403 615h1v2h-1zM404 614h1v3h-1zM405 614h1v3h-1zM406 614h1v2h-1zM407 613h1v4h-1zM408 613h1v2h-1zM409 614h1v1h-1zM410 614h1v3h-1zM411 615h1v3h-1zM412 615h1v2h-1zM413 613h1v2h-1zM414 614h1v2h-1zM415 612h1v3h-1zM416 610h1v4h-1zM417 610h1v2h-1zM418 610h1v2h-1zM419 608h1v3h-1zM420 610h1v1h-1zM421 609h1v1h-1zM422 609h1v1h-1zM423 607h1v4h-1zM424 610h1v2h-1zM425 609h1v3h-1zM426 610h1v3h-1zM427 611h1v1h-1zM428 612h1v2h-1zM429 614h1v3h-1zM430 613h1v2h-1zM431 615h1v4h-1zM432 616h1v2h-1zM433 615h1v4h-1zM434 616h1v2h-1zM435 615h1v2h-1zM436 617h1v1h-1zM437 614h1v4h-1zM438 615h1v3h-1zM439 613h1v3h-1zM440 612h1v4h-1zM441 613h1v4h-1zM442 612h1v4h-1zM443 612h1v3h-1zM444 611h1v2h-1zM445 611h1v2h-1zM446 610h1v5h-1zM447 612h1v3h-1zM448 615h1v2h-1zM449 613h1v3h-1zM450 603h1v10h-1zM451 610h1v1h-1zM452 609h1v2h-1zM453 608h1v2h-1zM454 608h1v2h-1zM455 595h1v15h-1zM456 584h1v24h-1zM457 530h1v78h-1zM458 501h1v90h-1zM459 531h1v70h-1zM460 505h1v102h-1zM461 563h1v45h-1zM462 565h1v44h-1zM463 569h1v38h-1zM464 535h1v72h-1zM465 490h1v84h-1zM466 523h1v84h-1zM467 557h1v51h-1zM468 608h1v3h-1zM469 610h1v2h-1zM470 610h1v3h-1zM471 607h1v3h-1zM472 609h1v4h-1zM473 613h1v3h-1zM474 614h1v1h-1zM475 614h1v1h-1zM476 601h1v14h-1zM477 613h1v1h-1zM478 614h1v1h-1zM479 614h1v1h-1zM480 614h1v2h-1zM481 613h1v1h-1zM482 613h1v1h-1zM483 611h1v2h-1zM484 611h1v2h-1zM485 610h1v1h-1zM486 609h1v1h-1zM487 570h1v40h-1zM488 610h1v1h-1zM489 609h1v2h-1zM490 610h1v1h-1zM491 589h1v22h-1zM492 611h1v2h-1zM493 611h1v3h-1zM494 613h1v2h-1zM495 612h1v1h-1zM496 610h1v3h-1zM497 609h1v2h-1zM498 598h1v12h-1zM499 606h1v1h-1zM500 600h1v12h-1zM501 610h1v2h-1zM502 611h1v1h-1zM503 611h1v2h-1zM504 611h1v1h-1zM505 610h1v3h-1zM506 609h1v3h-1zM507 596h1v13h-1zM508 584h1v23h-1zM509 512h1v89h-1zM510 540h1v66h-1zM511 560h1v48h-1zM512 589h1v12h-1zM513 601h1v13h-1zM514 613h1v1h-1zM515 612h1v3h-1zM516 613h1v2h-1zM517 613h1v2h-1zM518 615h1v1h-1zM519 615h1v1h-1zM520 615h1v1h-1zM521 616h1v1h-1zM522 617h1v1h-1zM523 617h1v1h-1zM524 617h1v2h-1zM525 617h1v2h-1zM526 618h1v1h-1zM527 618h1v2h-1zM528 618h1v2h-1zM529 618h1v2h-1zM530 618h1v2h-1zM531 618h1v2h-1zM532 618h1v2h-1zM533 619h1v1h-1zM534 618h1v2h-1zM535 619h1v2h-1zM536 619h1v2h-1zM537 619h1v2h-1zM538 619h1v2h-1zM539 619h1v2h-1zM540 620h1v2h-1zM541 620h1v2h-1zM542 621h1v1h-1zM543 620h1v2h-1zM544 620h1v2h-1zM545 621h1v2h-1zM546 621h1v1h-1zM547 620h1v2h-1zM548 622h1v1h-1z"/>
<path fill="#000" shape-rendering="crispEdges" d="M686 530h1v7h-1zM687 526h1v11h-1zM688 526h1v11h-1zM689 529h1v7h-1zM690 532h1v8h-1zM691 527h1v8h-1zM692 525h1v13h-1zM693 519h1v27h-1zM694 528h1v8h-1zM695 531h1v9h-1zM696 527h1v8h-1zM697 528h1v11h-1zM698 519h1v10h-1zM699 522h1v9h-1zM700 524h1v15h-1zM701 520h1v12h-1zM702 516h1v15h-1zM703 524h1v5h-1zM704 522h1v10h-1zM705 521h1v7h-1zM706 519h1v5h-1zM707 515h1v11h-1zM708 517h1v10h-1zM709 520h1v7h-1zM710 518h1v11h-1zM711 519h1v6h-1zM712 524h1v10h-1zM713 518h1v22h-1zM714 521h1v14h-1zM715 526h1v7h-1zM716 523h1v7h-1zM717 521h1v10h-1zM718 519h1v18h-1zM719 516h1v12h-1zM720 521h1v12h-1zM721 519h1v15h-1zM722 512h1v16h-1zM723 522h1v6h-1zM724 521h1v10h-1zM725 523h1v9h-1zM726 517h1v14h-1zM727 519h1v16h-1zM728 522h1v10h-1zM729 526h1v10h-1zM730 527h1v8h-1zM731 523h1v21h-1zM732 530h1v12h-1zM733 533h1v11h-1zM734 535h1v4h-1zM735 532h1v10h-1zM736 534h1v11h-1zM737 536h1v11h-1zM738 536h1v11h-1zM739 534h1v12h-1zM740 537h1v9h-1zM741 532h1v11h-1zM742 527h1v16h-1zM743 539h1v6h-1zM744 539h1v8h-1zM745 536h1v7h-1zM746 539h1v9h-1zM747 534h1v11h-1zM748 535h1v10h-1zM749 540h1v3h-1zM750 535h1v7h-1zM751 530h1v9h-1zM752 533h1v8h-1zM753 534h1v8h-1zM754 540h1v10h-1zM755 529h1v13h-1zM756 539h1v12h-1zM757 528h1v19h-1zM758 531h1v18h-1zM759 537h1v7h-1zM760 532h1v20h-1zM761 538h1v19h-1zM762 540h1v18h-1zM763 533h1v15h-1zM764 533h1v15h-1zM765 532h1v12h-1zM766 542h1v10h-1zM767 536h1v13h-1zM768 535h1v13h-1zM769 533h1v23h-1zM770 534h1v17h-1zM771 542h1v8h-1zM772 542h1v12h-1zM773 535h1v10h-1zM774 536h1v9h-1zM775 538h1v8h-1zM776 536h1v9h-1zM777 534h1v12h-1zM778 532h1v13h-1zM779 542h1v5h-1zM780 529h1v14h-1zM781 538h1v6h-1zM782 537h1v11h-1zM783 535h1v18h-1zM784 537h1v8h-1zM785 529h1v15h-1zM786 542h1v8h-1zM787 534h1v12h-1zM788 535h1v14h-1zM789 536h1v12h-1zM790 538h1v13h-1zM791 540h1v8h-1zM792 539h1v9h-1zM793 538h1v18h-1zM794 545h1v8h-1zM795 545h1v11h-1zM796 534h1v14h-1zM797 530h1v15h-1zM798 538h1v17h-1zM799 539h1v8h-1zM800 541h1v8h-1zM801 526h1v23h-1zM802 536h1v17h-1zM803 536h1v14h-1zM804 540h1v6h-1zM805 530h1v11h-1zM806 535h1v4h-1zM807 529h1v10h-1zM808 529h1v20h-1zM809 522h1v12h-1zM810 532h1v12h-1zM811 525h1v13h-1zM812 519h1v15h-1zM813 526h1v13h-1zM814 521h1v15h-1zM815 522h1v12h-1zM816 529h1v13h-1zM817 522h1v15h-1zM818 532h1v7h-1zM819 523h1v11h-1zM820 524h1v11h-1zM821 525h1v8h-1zM822 518h1v10h-1zM823 522h1v13h-1zM824 522h1v20h-1zM825 520h1v13h-1zM826 516h1v17h-1zM827 524h1v7h-1zM828 523h1v6h-1zM829 527h1v6h-1zM830 523h1v8h-1zM831 526h1v8h-1zM832 526h1v8h-1zM833 518h1v10h-1zM834 519h1v13h-1zM835 521h1v13h-1zM836 524h1v6h-1zM837 519h1v11h-1zM838 527h1v5h-1zM839 525h1v5h-1zM840 525h1v8h-1zM841 522h1v7h-1zM842 523h1v8h-1zM843 518h1v20h-1zM844 515h1v14h-1zM845 517h1v9h-1zM846 515h1v10h-1zM847 516h1v8h-1zM848 515h1v9h-1zM849 508h1v16h-1zM850 513h1v7h-1zM851 511h1v5h-1zM852 508h1v13h-1zM853 507h1v13h-1zM854 511h1v4h-1zM855 506h1v11h-1zM856 504h1v11h-1zM857 509h1v5h-1zM858 504h1v12h-1zM859 506h1v15h-1zM860 506h1v10h-1zM861 507h1v9h-1zM862 500h1v14h-1zM863 505h1v8h-1zM864 499h1v15h-1zM865 504h1v6h-1zM866 496h1v11h-1zM867 500h1v6h-1zM868 493h1v16h-1zM869 497h1v10h-1zM870 499h1v7h-1zM871 500h1v8h-1zM872 500h1v5h-1zM873 502h1v7h-1zM874 499h1v9h-1zM875 500h1v7h-1zM876 502h1v10h-1zM877 500h1v10h-1zM878 498h1v8h-1zM879 493h1v19h-1zM880 494h1v12h-1zM881 494h1v10h-1zM882 493h1v11h-1zM883 500h1v10h-1zM884 496h1v7h-1zM885 501h1v12h-1zM886 500h1v11h-1zM887 502h1v8h-1zM888 508h1v8h-1zM889 511h1v6h-1zM890 510h1v8h-1zM891 506h1v18h-1zM892 506h1v8h-1zM893 503h1v14h-1zM894 507h1v7h-1zM895 509h1v3h-1zM896 498h1v19h-1zM897 508h1v10h-1zM898 507h1v11h-1zM899 507h1v6h-1zM900 508h1v7h-1zM901 510h1v9h-1zM902 513h1v4h-1zM903 514h1v6h-1zM904 513h1v13h-1zM905 516h1v10h-1zM906 519h1v4h-1zM907 517h1v11h-1zM908 522h1v7h-1zM909 520h1v9h-1zM910 524h1v7h-1zM911 517h1v12h-1zM912 524h1v8h-1zM913 530h1v5h-1zM914 530h1v8h-1zM915 528h1v6h-1zM916 527h1v7h-1zM917 531h1v6h-1zM918 524h1v14h-1zM919 526h1v10h-1zM920 527h1v10h-1zM921 530h1v4h-1zM922 532h1v6h-1zM923 526h1v15h-1zM924 531h1v7h-1zM925 529h1v11h-1zM926 533h1v9h-1zM927 528h1v11h-1zM928 532h1v12h-1zM929 534h1v9h-1zM930 537h1v9h-1zM931 540h1v10h-1zM932 543h1v7h-1zM933 541h1v14h-1zM934 543h1v6h-1zM935 545h1v10h-1zM936 548h1v10h-1zM937 549h1v5h-1zM938 547h1v10h-1zM939 542h1v14h-1zM940 552h1v10h-1zM941 552h1v15h-1zM942 556h1v5h-1zM943 556h1v8h-1zM944 556h1v11h-1zM945 547h1v18h-1zM946 558h1v8h-1zM947 562h1v8h-1zM948 552h1v17h-1zM949 555h1v9h-1zM950 560h1v7h-1zM951 562h1v10h-1zM952 562h1v3h-1zM953 563h1v6h-1zM954 566h1v3h-1zM955 563h1v16h-1zM956 567h1v10h-1zM957 569h1v7h-1zM958 571h1v7h-1zM959 567h1v8h-1zM960 571h1v6h-1zM961 569h1v17h-1zM962 571h1v11h-1zM963 567h1v17h-1zM964 576h1v10h-1zM965 577h1v7h-1zM966 573h1v10h-1zM967 577h1v11h-1zM968 583h1v3h-1zM969 580h1v12h-1zM970 579h1v7h-1zM971 584h1v8h-1zM972 584h1v18h-1zM973 586h1v9h-1zM974 585h1v10h-1zM975 580h1v13h-1zM976 577h1v7h-1zM977 571h1v14h-1zM978 569h1v10h-1zM979 574h1v10h-1zM980 575h1v6h-1zM981 573h1v10h-1zM982 582h1v9h-1zM983 579h1v6h-1zM984 584h1v13h-1zM985 578h1v17h-1zM986 582h1v14h-1zM987 585h1v24h-1zM988 602h1v6h-1zM989 596h1v8h-1zM990 600h1v4h-1zM991 589h1v13h-1zM992 593h1v4h-1zM993 589h1v5h-1zM994 591h1v4h-1zM995 588h1v8h-1zM996 591h1v13h-1zM997 586h1v15h-1zM998 578h1v14h-1zM999 572h1v6h-1zM1000 573h1v4h-1zM1001 572h1v6h-1zM1002 573h1v5h-1zM1003 569h1v8h-1zM1004 566h1v15h-1zM1005 568h1v18h-1zM1006 577h1v14h-1zM1007 574h1v20h-1zM1008 584h1v10h-1zM1009 587h1v9h-1zM1010 596h1v4h-1zM1011 592h1v9h-1zM1012 601h1v9h-1zM1013 603h1v12h-1zM1014 606h1v11h-1zM1015 610h1v9h-1zM1016 606h1v7h-1zM1017 605h1v14h-1zM1018 609h1v7h-1zM1019 607h1v9h-1zM1020 600h1v7h-1zM1021 598h1v13h-1zM1022 597h1v10h-1zM1023 597h1v5h-1zM1024 592h1v6h-1zM1025 595h1v9h-1zM1026 590h1v8h-1zM1027 596h1v8h-1zM1028 590h1v19h-1zM1029 593h1v11h-1zM1030 592h1v19h-1zM1031 577h1v15h-1zM1032 578h1v6h-1zM1033 567h1v11h-1zM1034 564h1v9h-1zM1035 557h1v12h-1zM1036 552h1v8h-1zM1037 546h1v11h-1zM1038 542h1v7h-1zM1039 539h1v10h-1zM1040 536h1v10h-1zM1041 536h1v6h-1zM1042 528h1v15h-1zM1043 530h1v12h-1zM1044 539h1v9h-1zM1045 538h1v4h-1zM1046 527h1v12h-1zM1047 530h1v5h-1zM1048 529h1v18h-1zM1049 544h1v4h-1zM1050 544h1v8h-1zM1051 544h1v15h-1zM1052 549h1v3h-1zM1053 546h1v10h-1zM1054 551h1v14h-1zM1055 551h1v8h-1zM1056 555h1v5h-1zM1057 544h1v17h-1zM1058 554h1v5h-1zM1059 547h1v8h-1zM1060 553h1v11h-1zM1061 559h1v6h-1zM1062 561h1v3h-1zM1063 564h1v16h-1zM1064 561h1v13h-1zM1065 559h1v9h-1zM1066 559h1v4h-1zM1067 554h1v7h-1zM1068 551h1v12h-1zM1069 549h1v13h-1zM1070 546h1v5h-1zM1071 537h1v11h-1zM1072 540h1v10h-1zM1073 545h1v9h-1zM1074 542h1v12h-1zM1075 547h1v6h-1zM1076 550h1v6h-1zM1077 550h1v6h-1zM1078 540h1v16h-1zM1079 541h1v9h-1zM1080 545h1v7h-1zM1081 545h1v4h-1zM1082 540h1v11h-1zM1083 533h1v10h-1zM1084 533h1v11h-1zM1085 532h1v8h-1zM1086 533h1v5h-1zM1087 528h1v12h-1zM1088 526h1v5h-1zM1089 520h1v16h-1zM1090 519h1v8h-1zM1091 517h1v13h-1zM1092 521h1v10h-1zM1093 519h1v9h-1zM1094 521h1v4h-1zM1095 516h1v13h-1zM1096 521h1v7h-1zM1097 520h1v12h-1zM1098 518h1v11h-1zM1099 525h1v6h-1zM1100 521h1v10h-1zM1101 520h1v17h-1zM1102 532h1v6h-1zM1103 536h1v4h-1zM1104 531h1v15h-1zM1105 538h1v8h-1zM1106 542h1v5h-1zM1107 540h1v10h-1zM1108 542h1v10h-1zM1109 541h1v8h-1zM1110 541h1v11h-1zM1111 544h1v11h-1zM1112 546h1v8h-1zM1113 546h1v11h-1zM1114 550h1v4h-1zM1115 550h1v11h-1zM1116 550h1v6h-1zM1117 550h1v4h-1zM1118 546h1v6h-1zM1119 542h1v11h-1zM1120 546h1v11h-1zM1121 541h1v9h-1zM1122 545h1v4h-1zM1123 546h1v12h-1zM1124 548h1v4h-1zM1125 545h1v14h-1zM1126 545h1v10h-1zM1127 550h1v12h-1zM1128 544h1v17h-1zM1129 552h1v6h-1zM1130 558h1v5h-1z"/>
<g fill="#000" shape-rendering="crispEdges">
<rect x="687" y="341" width="444" height="1"/>
<rect x="104" y="774" width="444" height="1"/>
<rect x="687" y="842" width="444" height="1"/>
<rect x="924" y="710" width="1" height="133"/>
<rect x="925" y="719" width="1" height="124"/>
<rect x="926" y="715" width="1" height="128"/>
<rect x="1038" y="710" width="1" height="133"/>
<rect x="1039" y="715" width="1" height="128"/>
<rect x="1040" y="719" width="1" height="124"/>
<rect x="1041" y="719" width="1" height="124"/>
<rect x="1042" y="710" width="1" height="133"/>
<rect x="1043" y="710" width="1" height="67"/>
<rect x="1044" y="774" width="1" height="69"/>
<rect x="1045" y="706" width="1" height="137"/>
<rect x="1046" y="715" width="1" height="128"/>
<rect x="1047" y="732" width="1" height="111"/>
<rect x="1048" y="710" width="1" height="76"/>
<rect x="1049" y="777" width="1" height="66"/>
<rect x="1070" y="715" width="1" height="128"/>
<rect x="1090" y="710" width="1" height="133"/>
<rect x="1091" y="710" width="1" height="133"/>
<rect x="1092" y="715" width="1" height="71"/>
<rect x="1093" y="717" width="1" height="126"/>
<rect x="1094" y="715" width="1" height="128"/>
</g>
</svg>
</body></html>
